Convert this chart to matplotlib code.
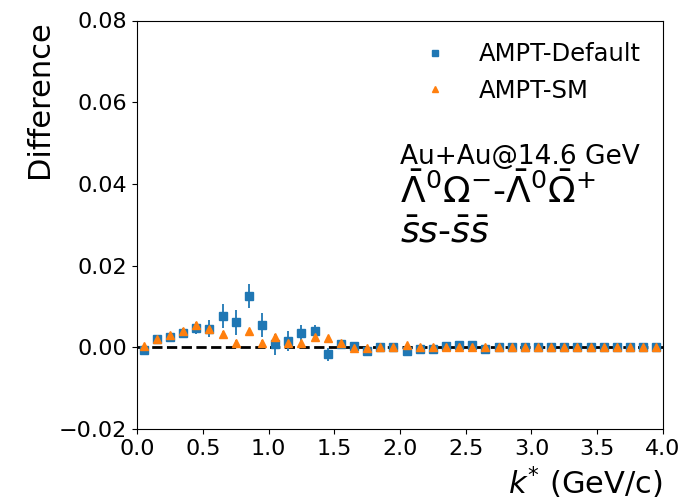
import numpy as np
import matplotlib
matplotlib.use("Agg")
import matplotlib.pyplot as plt

kstar = np.round(np.arange(0.05, 4.0, 0.1), 2)

default_vals = [-0.0007, 0.0020, 0.0024, 0.0036, 0.0048, 0.0046, 0.0077, 0.0061, 0.0126, 0.0054,
                0.0007, 0.0015, 0.0034, 0.0040, -0.0017, 0.0008, 0.0003, -0.0010, 0.0000, 0.0000,
                -0.0010, -0.0004, -0.0004, 0.0002, 0.0006, 0.0006, -0.0005, 0.0000, 0.0000, 0.0000,
                0.0000, 0.0000, 0.0000, 0.0000, 0.0000, 0.0000, 0.0000, 0.0000, 0.0000, 0.0000]
default_errs = [0.0004, 0.0006, 0.0009, 0.0012, 0.0015, 0.0020, 0.0030, 0.0031, 0.0030, 0.0029,
                0.0026, 0.0025, 0.0020, 0.0015, 0.0016, 0.0008, 0.0005, 0.0005, 0.0004, 0.0003,
                0.0003, 0.0003, 0.0003, 0.0003, 0.0003, 0.0003, 0.0003, 0.0002, 0.0002, 0.0002,
                0.0002, 0.0002, 0.0002, 0.0002, 0.0002, 0.0002, 0.0002, 0.0002, 0.0002, 0.0002]

sm_vals = [0.0002, 0.0020, 0.0030, 0.0040, 0.0054, 0.0046, 0.0033, 0.0011, 0.0040, 0.0011,
           0.0024, 0.0010, 0.0010, 0.0024, 0.0022, 0.0011, -0.0002, -0.0002, 0.0000, 0.0000,
           0.0006, 0.0000, 0.0000, 0.0000, 0.0000, 0.0000, 0.0000, 0.0000, 0.0000, 0.0000,
           0.0000, 0.0000, 0.0000, 0.0000, 0.0000, 0.0000, 0.0000, 0.0000, 0.0000, 0.0000]
sm_errs = [0.0003, 0.0004, 0.0005, 0.0006, 0.0007, 0.0007, 0.0007, 0.0006, 0.0006, 0.0006,
           0.0005, 0.0005, 0.0005, 0.0004, 0.0004, 0.0003, 0.0003, 0.0003, 0.0002, 0.0002,
           0.0002, 0.0002, 0.0002, 0.0002, 0.0002, 0.0002, 0.0002, 0.0002, 0.0002, 0.0002,
           0.0002, 0.0002, 0.0002, 0.0002, 0.0002, 0.0002, 0.0002, 0.0002, 0.0002, 0.0002]

fig = plt.figure(figsize=(6.82, 5), dpi=100)
ax = fig.add_axes([0.201, 0.142, 0.771, 0.817])

ax.plot([0, 4], [0, 0], 'k--', lw=2, zorder=1)
ax.errorbar(kstar, default_vals, yerr=default_errs, fmt='none', ecolor='#1f77b4', elinewidth=1.3, zorder=2)
ax.errorbar(kstar, sm_vals, yerr=sm_errs, fmt='none', ecolor='#ff7f0e', elinewidth=1.3, zorder=3)
ax.plot(kstar, default_vals, 's', color='#1f77b4', ms=5.5, ls='none', label='AMPT-Default', zorder=4)
ax.plot(kstar, sm_vals, '^', color='#ff7f0e', ms=6, ls='none', label='AMPT-SM', zorder=5)

ax.set_xlim(0, 4)
ax.set_ylim(-0.02, 0.08)
ax.set_xticks(np.arange(0, 4.01, 0.5))
ax.set_yticks(np.arange(-0.02, 0.081, 0.02))
ax.tick_params(labelsize=16)
ax.set_xlabel(r'$k^{*}$ (GeV/c)', fontsize=22, loc='right')
ax.set_ylabel('Difference', fontsize=22, loc='top')

ax.legend(loc='upper right', fontsize=17.5, frameon=False, markerscale=0.8)

ax.text(2.0, 0.0449, 'Au+Au@14.6 GeV', fontsize=19, va='baseline')
ax.text(2.0, 0.0354, r'$\bar{\Lambda}^0\Omega^{-}$-$\bar{\Lambda}^0\bar{\Omega}^{+}$', fontsize=26, va='baseline')
ax.text(2.0, 0.0256, r'$\bar{s}s$-$\bar{s}\bar{s}$', fontsize=26, va='baseline')

fig.savefig('out.png', dpi=100)
